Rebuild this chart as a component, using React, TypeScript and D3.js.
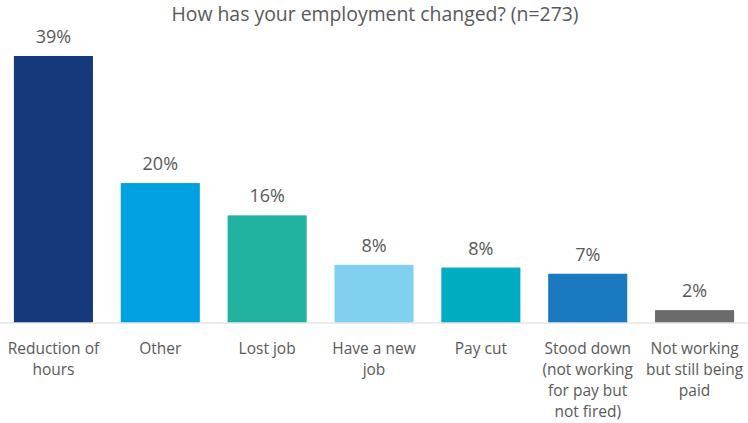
import React from "react";
import * as d3 from "d3";

const title = "How has your employment changed? (n=273)";
const categories = [
  "Reduction of\nhours",
  "Other",
  "Lost job",
  "Have a new\njob",
  "Pay cut",
  "Stood down\n(not working\nfor pay but\nnot fired)",
  "Not working\nbut still being\npaid",
];
const values = [38.8, 20.3, 15.6, 8.4, 8.0, 7.1, 1.8];
const colors = ["#153A7C", "#00A1E0", "#21B3A0", "#82D0EF", "#00ACBF", "#1A79C1", "#6B6B6B"];

const W = 748;
const H = 423;
const baseY = 322.5;
const font = "'Open Sans', 'DejaVu Sans', sans-serif";
const textColor = "#595959";

export default function App() {
  const x = d3
    .scaleBand<string>()
    .domain(categories)
    .range([0, W])
    .paddingInner(0.26)
    .paddingOuter(0.13);
  const y = d3.scaleLinear().domain([0, 38.8]).range([baseY, 56]);
  const fmt = (v: number) => `${Math.round(v)}%`;

  return (
    <svg
      width={W}
      height={H}
      style={{ position: "fixed", left: 0, top: 0, background: "#fff" }}
      fontFamily={font}
    >
      <rect width={W} height={H} fill="#fff" />
      <text x={375} y={20.5} textAnchor="middle" fontSize={19.4} fill={textColor}>
        {title}
      </text>
      {categories.map((c, i) => {
        const bx = x(c)!;
        const bw = x.bandwidth();
        const top = y(values[i]);
        const cx = bx + bw / 2;
        return (
          <g key={c}>
            <rect x={bx} y={top} width={bw} height={baseY - top} fill={colors[i]} />
            <text x={cx} y={top - 13} textAnchor="middle" fontSize={18} fill={textColor}>
              {fmt(values[i])}
            </text>
            <text textAnchor="middle" fontSize={15.5} fill={textColor}>
              {c.split("\n").map((line, j) => (
                <tspan key={j} x={cx} y={354 + j * 21}>
                  {line}
                </tspan>
              ))}
            </text>
          </g>
        );
      })}
      <line x1={0} x2={W} y1={baseY + 0.5} y2={baseY + 0.5} stroke="#D9D9D9" strokeWidth={1} />
    </svg>
  );
}
